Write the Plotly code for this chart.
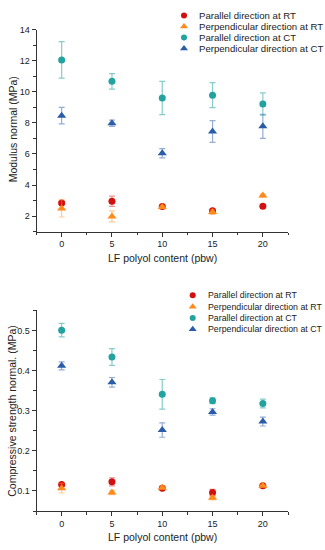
import plotly.graph_objects as go

# ---------------- data ----------------
lf_content = [0, 5, 10, 15, 20]
series_names = ["Parallel direction at RT", "Perpendicular direction at RT",
                "Parallel direction at CT", "Perpendicular direction at CT"]

# Modulus normal (MPa)
mod_par_rt = [2.85, 2.96, 2.62, 2.34, 2.64]
mod_par_rt_err = [0.08, 0.33, 0.08, 0.1, 0.06]
mod_perp_rt = [2.49, 1.98, 2.58, 2.26, 3.32]
mod_perp_rt_err = [0.55, 0.35, 0.08, 0.15, 0.1]
mod_par_ct = [12.06, 10.68, 9.6, 9.79, 9.22]
mod_par_ct_err = [1.18, 0.5, 1.07, 0.8, 0.72]
mod_perp_ct = [8.47, 7.98, 6.05, 7.45, 7.78]
mod_perp_ct_err = [0.53, 0.2, 0.3, 0.7, 0.78]

# Compressive strength normal (MPa)
cs_par_rt = [0.116, 0.123, 0.107, 0.096, 0.113]
cs_par_rt_err = [0.004, 0.01, 0.003, 0.008, 0.003]
cs_perp_rt = [0.107, 0.096, 0.108, 0.083, 0.113]
cs_perp_rt_err = [0.012, 0.005, 0.004, 0.005, 0.003]
cs_par_ct = [0.501, 0.434, 0.341, 0.325, 0.318]
cs_par_ct_err = [0.017, 0.021, 0.037, 0.007, 0.011]
cs_perp_ct = [0.412, 0.371, 0.252, 0.297, 0.273]
cs_perp_ct_err = [0.01, 0.012, 0.018, 0.008, 0.011]

x_ticks = [0, 5, 10, 15, 20]
mod_ticks = [2, 4, 6, 8, 10, 12, 14]
cs_ticks = [0.1, 0.2, 0.3, 0.4, 0.5]

# ---------------- styling ----------------
colors = ["#d40f0f", "#ff8a1c", "#22a3a0", "#2a5ca8"]
err_colors = ["rgba(212,15,15,0.45)", "rgba(255,138,28,0.45)",
              "rgba(34,163,160,0.55)", "rgba(42,92,168,0.5)"]
symbols = ["circle", "triangle-up", "circle", "triangle-up"]
sizes = [7, 8, 7, 8]
FONT = "Liberation Sans, Arial, sans-serif"

W, H = 325, 550
def px_x(p):
    return p / W
def px_y(p):
    return (H - p) / H

fig = go.Figure()

top_sets = [(mod_par_rt, mod_par_rt_err), (mod_perp_rt, mod_perp_rt_err),
            (mod_par_ct, mod_par_ct_err), (mod_perp_ct, mod_perp_ct_err)]
bot_sets = [(cs_par_rt, cs_par_rt_err), (cs_perp_rt, cs_perp_rt_err),
            (cs_par_ct, cs_par_ct_err), (cs_perp_ct, cs_perp_ct_err)]

for i, (vals, errs) in enumerate(top_sets):
    fig.add_trace(go.Scatter(
        x=lf_content, y=vals, mode="markers", name=series_names[i],
        marker=dict(color=colors[i], symbol=symbols[i], size=sizes[i]),
        error_y=dict(type="data", array=errs, color=err_colors[i], thickness=1.2, width=3),
        xaxis="x", yaxis="y", showlegend=False))

for i, (vals, errs) in enumerate(bot_sets):
    fig.add_trace(go.Scatter(
        x=lf_content, y=vals, mode="markers", name=series_names[i],
        marker=dict(color=colors[i], symbol=symbols[i], size=sizes[i]),
        error_y=dict(type="data", array=errs, color=err_colors[i], thickness=1.2, width=3),
        xaxis="x2", yaxis="y2", showlegend=False))

# custom compact legends (one per panel), rows placed by index on legend axes
legend_rows = list(range(len(series_names)))
for k, (xa, ya) in enumerate([("x3", "y3"), ("x4", "y4")]):
    for i in legend_rows:
        fig.add_trace(go.Scatter(
            x=[0], y=[i], mode="markers",
            marker=dict(color=colors[i], symbol=symbols[i], size=6 if symbols[i] == "circle" else 7),
            xaxis=xa, yaxis=ya, showlegend=False, hoverinfo="skip"))
        fig.add_annotation(x=13, y=i, xref=xa, yref=ya, text=series_names[i],
                           showarrow=False, xanchor="left", yanchor="middle",
                           font=dict(family=FONT, size=9.6 if k == 0 else 8.8, color="#222"))

axis_common = dict(showline=True, linecolor="#333", linewidth=1, ticks="outside",
                   ticklen=4, tickwidth=1, tickcolor="#333", showgrid=False, zeroline=False,
                   mirror=False, tickfont=dict(family=FONT, size=9, color="#222"))

xdom = [px_x(36.5), px_x(288)]
fig.update_layout(
    width=W, height=H, margin=dict(l=0, r=0, t=0, b=0),
    paper_bgcolor="white", plot_bgcolor="white",
    xaxis=dict(domain=xdom, range=[-2.5, 22.5], tickvals=x_ticks, anchor="y",
               minor=dict(ticks="outside", ticklen=2.5, dtick=2.5, tick0=0, tickcolor="#333"),
               **axis_common),
    yaxis=dict(domain=[px_y(228.7), px_y(25)], range=[1, 14], tickvals=mod_ticks, anchor="x",
               minor=dict(ticks="outside", ticklen=2.5, dtick=1, tick0=0, tickcolor="#333"),
               **axis_common),
    xaxis2=dict(domain=xdom, range=[-2.5, 22.5], tickvals=x_ticks, anchor="y2",
                minor=dict(ticks="outside", ticklen=2.5, dtick=2.5, tick0=0, tickcolor="#333"),
                **axis_common),
    yaxis2=dict(domain=[px_y(510.7), px_y(308.3)], range=[0.05, 0.55], tickvals=cs_ticks,
                anchor="x2", tickformat=".1f",
                minor=dict(ticks="outside", ticklen=2.5, dtick=0.05, tick0=0, tickcolor="#333"),
                **axis_common),
    xaxis3=dict(domain=[px_x(170), px_x(325)], range=[-14, 141], visible=False, anchor="y3"),
    yaxis3=dict(domain=[px_y(50), px_y(5)], range=[3.54, -0.514], visible=False, anchor="x3"),
    xaxis4=dict(domain=[px_x(170), px_x(325)], range=[-22.7, 132.3], visible=False, anchor="y4"),
    yaxis4=dict(domain=[px_y(335), px_y(285)], range=[3.68, -0.70], visible=False, anchor="x4"),
)

# axis titles
title_font = dict(family=FONT, size=10.5, color="#222")
fig.add_annotation(x=px_x(162.5), y=px_y(255), xref="paper", yref="paper",
                   xanchor="center", yanchor="middle",
                   text="LF polyol content (pbw)", showarrow=False, font=title_font)
fig.add_annotation(x=px_x(162.5), y=px_y(536.7), xref="paper", yref="paper",
                   xanchor="center", yanchor="middle",
                   text="LF polyol content (pbw)", showarrow=False, font=title_font)
fig.add_annotation(x=px_x(12.5), y=px_y(126), xref="paper", yref="paper",
                   xanchor="center", yanchor="middle",
                   text="Modulus normal (MPa)", showarrow=False, textangle=-90, font=title_font)
fig.add_annotation(x=px_x(12.5), y=px_y(410), xref="paper", yref="paper",
                   xanchor="center", yanchor="middle",
                   text="Compressive strength normal. (MPa)", showarrow=False, textangle=-90,
                   font=title_font)

fig.write_html("out.html", config={"displayModeBar": False},
               post_script="document.body.style.margin='0';document.body.style.padding='0';")
